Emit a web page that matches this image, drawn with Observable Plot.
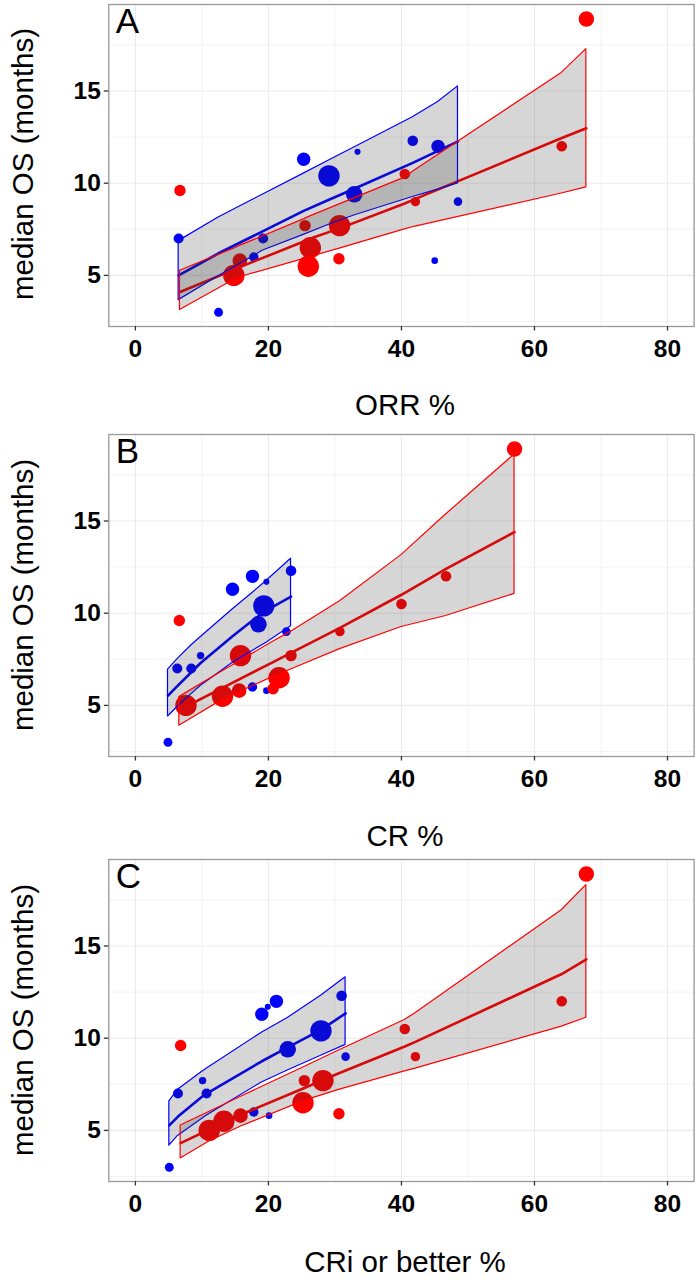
<!DOCTYPE html>
<html><head><meta charset="utf-8">
<script src="https://cdn.jsdelivr.net/npm/d3@7"></script>
<script src="https://cdn.jsdelivr.net/npm/@observablehq/plot@0.6"></script>
<style>
html,body{margin:0;padding:0;background:#fff;}
body{width:698px;height:1285px;position:relative;overflow:hidden;font-family:"Liberation Sans",Arial,sans-serif;}
.panel{position:absolute;left:0;}
.xt{position:absolute;left:205px;width:400px;text-align:center;font-size:29.5px;line-height:30px;color:#000;white-space:nowrap;}
.yt{position:absolute;left:-177.2px;width:400px;height:30px;text-align:center;font-size:29.5px;line-height:30px;color:#000;transform:rotate(-90deg);white-space:nowrap;}
svg g[aria-label="x-axis tick label"], svg g[aria-label="y-axis tick label"]{font-weight:bold;}
</style></head><body>
<script>
// ---- axis ticks & labels ----
const xTicks = [0, 20, 40, 60, 80];
const xMinor = [10, 30, 50, 70];
const yTicks = [5, 10, 15];
const yMinor = [2.5, 7.5, 12.5, 17.5];
const panelLetters = ["A", "B", "C"];
const xTitles = ["ORR %", "CR %", "CRi or better %"];
const yTitle = "median OS (months)";

// ---- blue-group studies ----
const blueOS  = [3.0, 7.0, 7.0, 7.7, 6.0, 5.8, 9.0, 9.4, 10.4, 11.3, 11.7, 12.0, 12.3];
const blueN   = [35, 44, 44, 24, 39, 19, 32, 120, 200, 78, 16, 78, 49];
const blueORR = [12.5, 6.5, 19.2, 30.6, 17.8, 45.0, 48.5, 32.9, 29.1, 25.3, 33.4, 45.5, 41.7];
const blueCR  = [4.9, 6.3, 8.4, 9.8, 17.6, 19.7, 22.7, 18.5, 19.3, 14.6, 19.7, 17.6, 23.4];
const blueCRi = [5.1, 6.4, 10.7, 10.1, 17.8, 20.1, 31.6, 22.9, 27.9, 19.0, 19.9, 21.2, 31.0];

// ---- red-group studies ----
const redOS  = [9.6, 5.0, 5.5, 5.8, 7.7, 7.7, 6.5, 5.9, 9.0, 10.5, 12.0, 18.9];
const redN   = [57, 200, 200, 93, 57, 200, 200, 57, 39, 49, 49, 104];
const redORR = [6.7, 14.8, 26.0, 15.7, 25.5, 30.7, 26.3, 30.6, 42.1, 40.5, 64.1, 67.8];
const redCR  = [6.6, 7.6, 13.1, 15.6, 23.4, 15.8, 21.6, 20.7, 30.75, 40.0, 46.7, 57.0];
const redCRi = [6.8, 11.1, 13.3, 15.8, 25.4, 28.2, 25.2, 30.6, 42.1, 40.5, 64.1, 67.8];

// ---- fitted lines and confidence bands ----
// Panel A (ORR)
const aBlueX   = [6.5, 12.5, 17.8, 19.2, 25.3, 29.1, 32.9, 41.7, 45.5, 48.5];
const aBlueFit = [5.0, 6.2, 7.15, 7.4, 8.5, 9.1, 9.7, 11.1, 11.75, 12.27];
const aBlueLo  = [3.66, 4.95, 6.05, 6.35, 7.2, 7.75, 8.25, 9.25, 9.65, 9.99];
const aBlueHi  = [6.86, 8.14, 9.13, 9.39, 10.52, 11.23, 11.94, 13.58, 14.4, 15.25];
const aRedX    = [6.7, 14.8, 15.7, 25.4, 26.3, 30.7, 40.5, 42.1, 64.1, 67.8];
const aRedFit  = [4.1, 5.3, 5.45, 6.85, 7.0, 7.55, 8.9, 9.15, 12.45, 12.98];
const aRedLo   = [3.12, 4.75, 4.9, 5.9, 6.0, 6.45, 7.5, 7.65, 9.44, 9.77];
const aRedHi   = [5.25, 6.45, 6.6, 8.05, 8.2, 8.85, 10.3, 10.71, 15.98, 17.27];
// Panel B (CR)
const bBlueX   = [4.9, 6.3, 8.4, 9.8, 14.6, 17.6, 19.7, 23.4];
const bBlueFit = [5.53, 6.05, 6.8, 7.3, 8.75, 9.6, 10.15, 10.9];
const bBlueLo  = [4.4, 4.9, 5.6, 6.05, 7.3, 7.95, 8.4, 9.29];
const bBlueHi  = [6.94, 7.5, 8.25, 8.7, 10.2, 11.1, 11.75, 12.95];
const bRedX    = [6.6, 13.1, 20.7, 23.4, 30.75, 40.0, 46.7, 57.0];
const bRedFit  = [4.75, 5.95, 7.35, 7.85, 9.2, 11.0, 12.4, 14.4];
const bRedLo   = [3.9, 5.3, 6.55, 6.95, 8.05, 9.25, 9.85, 11.05];
const bRedHi   = [5.45, 6.85, 8.45, 9.0, 10.65, 13.15, 15.35, 18.6];
// Panel C (CRi or better)
const cBlueX   = [5.1, 6.4, 10.1, 10.7, 19.0, 22.9, 27.9, 31.6];
const cBlueFit = [5.27, 5.75, 6.85, 7.0, 8.75, 9.5, 10.45, 11.35];
const cBlueLo  = [4.17, 4.7, 5.65, 5.8, 7.6, 8.25, 9.05, 9.64];
const cBlueHi  = [6.57, 7.2, 8.2, 8.35, 10.3, 11.1, 12.3, 13.3];
const cRedX    = [6.8, 11.1, 15.8, 25.4, 30.6, 40.5, 42.1, 64.1, 67.8];
const cRedFit  = [4.31, 5.05, 5.85, 7.3, 8.1, 9.55, 9.8, 13.48, 14.27];
const cRedLo   = [3.48, 4.4, 5.2, 6.6, 7.2, 8.2, 8.35, 10.63, 11.11];
const cRedHi   = [5.27, 6.0, 6.81, 8.44, 9.33, 10.99, 11.35, 16.94, 18.3];

const BLUE = "#0000ff", RED = "#ff0000";

const panels = [
  {letter: panelLetters[0], bx: blueORR, rx: redORR, bf: [aBlueX, aBlueFit, aBlueLo, aBlueHi], rf: [aRedX, aRedFit, aRedLo, aRedHi], top: 0, xTitleTop: 390.3, yMid: 164},
  {letter: panelLetters[1], bx: blueCR, rx: redCR, bf: [bBlueX, bBlueFit, bBlueLo, bBlueHi], rf: [bRedX, bRedFit, bRedLo, bRedHi], top: 430, xTitleTop: 820.8, yMid: 594.5},
  {letter: panelLetters[2], bx: blueCRi, rx: redCRi, bf: [cBlueX, cBlueFit, cBlueLo, cBlueHi], rf: [cRedX, cRedFit, cRedLo, cRedHi], top: 855, xTitleTop: 1246.5, yMid: 1019.5}
];

function ribbon(f, color) {
  return Plot.areaY(f[0], {x: f[0], y1: f[2], y2: f[3], fill: "#333333", fillOpacity: 0.2, stroke: color, strokeWidth: 1.2, curve: "linear"});
}
function fitLine(f, color) {
  return Plot.line(f[0], {x: f[0], y: f[1], stroke: color, strokeWidth: 2.6, curve: "linear"});
}

panels.forEach((p, k) => {
  const blueData = blueOS.map((y, i) => ({x: p.bx[i], y, n: blueN[i]}));
  const redData = redOS.map((y, i) => ({x: p.rx[i], y, n: redN[i]}));
  const svg = Plot.plot({
    width: 698, height: 366,
    marginTop: 4, marginBottom: 40, marginLeft: 108.3, marginRight: 4.4,
    style: {fontFamily: '"Liberation Sans", Arial, sans-serif', color: "#000", background: "transparent", overflow: "visible"},
    x: {domain: [-4, 84]},
    y: {domain: [2.23, 19.69]},
    r: {domain: [0, 200], range: [0, 10.7]},
    marks: [
      Plot.gridX(xMinor, {stroke: "#eeeeee", strokeOpacity: 1, strokeWidth: 0.7}),
      Plot.gridY(yMinor, {stroke: "#eeeeee", strokeOpacity: 1, strokeWidth: 0.7}),
      Plot.gridX(xTicks, {stroke: "#ebebeb", strokeOpacity: 1, strokeWidth: 1.1}),
      Plot.gridY(yTicks, {stroke: "#ebebeb", strokeOpacity: 1, strokeWidth: 1.1}),
      Plot.dot(blueData, {x: "x", y: "y", r: "n", fill: BLUE}),
      Plot.dot(redData, {x: "x", y: "y", r: "n", fill: RED}),
      fitLine(p.bf, BLUE),
      fitLine(p.rf, RED),
      ribbon(p.bf, BLUE),
      ribbon(p.rf, RED),
      Plot.frame({stroke: "#999999", strokeWidth: 1.3}),
      Plot.axisX(xTicks, {tickSize: 4.5, tickPadding: 8.5, fontSize: 24.5, fontWeight: "bold", stroke: "#333333", strokeWidth: 1.3, fill: "#000", label: null}),
      Plot.axisY(yTicks, {tickSize: 4.5, tickPadding: 3.5, fontSize: 24.5, fontWeight: "bold", stroke: "#333333", strokeWidth: 1.3, fill: "#000", label: null}),
      Plot.text([p.letter], {frameAnchor: "top-left", textAnchor: "start", lineAnchor: "top", dx: 7, dy: 4, fontSize: 35, fontFamily: '"Liberation Sans", Arial, sans-serif', fill: "#000"})
    ]
  });
  const wrap = document.createElement("div");
  wrap.className = "panel";
  wrap.style.top = p.top + "px";
  wrap.appendChild(svg);
  document.body.appendChild(wrap);

  const xt = document.createElement("div");
  xt.className = "xt";
  xt.style.top = p.xTitleTop + "px";
  xt.textContent = xTitles[k];
  document.body.appendChild(xt);

  const yt = document.createElement("div");
  yt.className = "yt";
  yt.style.top = (p.yMid - 15) + "px";
  yt.textContent = yTitle;
  document.body.appendChild(yt);
});
</script>
</body></html>
